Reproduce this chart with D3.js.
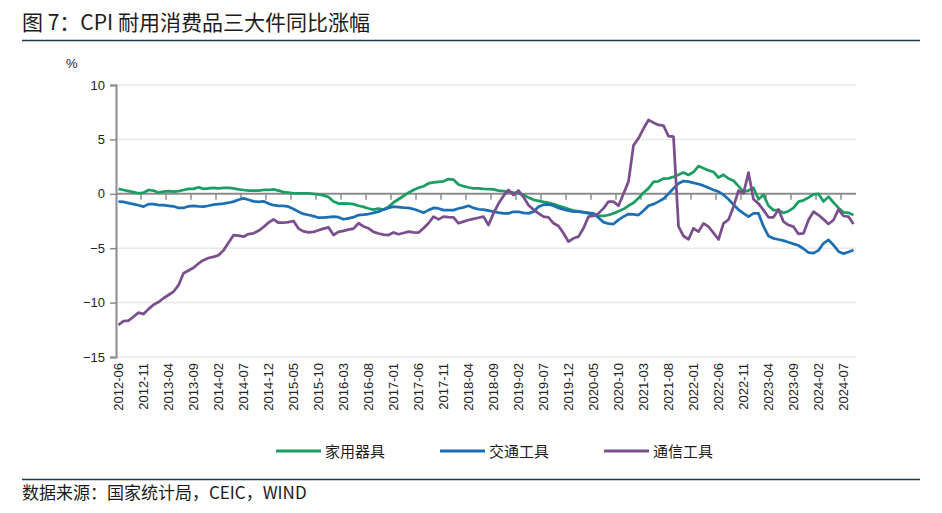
<script src="https://cdnjs.cloudflare.com/ajax/libs/d3/7.8.5/d3.min.js"></script>

<body style="margin: 0; background: white;">
<svg id="vis"></svg>
</body>

<script>

  /***** DATA *****/

  // Monthly categories 2012-06 ... 2024-09
  var months = d3.timeMonths(new Date(2012, 5, 1), new Date(2024, 8, 2)).map(d3.timeFormat('%Y-%m'))

  var seriesNames = ['家用器具', '交通工具', '通信工具']

  var appliances = [
    0.45, 0.35, 0.25, 0.15, 0.05, 0.1, 0.35, 0.3, 0.1, 0.2,
    0.25, 0.2, 0.25, 0.35, 0.45, 0.45, 0.6, 0.45, 0.5, 0.55,
    0.5, 0.55, 0.55, 0.5, 0.4, 0.35, 0.3, 0.3, 0.3, 0.35,
    0.35, 0.4, 0.3, 0.15, 0.1, 0.05, 0.03, 0.03, 0.03, 0.0,
    -0.05, -0.15, -0.3, -0.7, -0.9, -0.88, -0.9, -0.95, -1.1, -1.2,
    -1.35, -1.45, -1.35, -1.45, -1.2, -0.8, -0.5, -0.2, 0.1, 0.35,
    0.55, 0.7, 0.95, 1.05, 1.1, 1.15, 1.35, 1.3, 0.85, 0.7,
    0.58, 0.5, 0.5, 0.45, 0.42, 0.4, 0.3, 0.25, 0.18, 0.1,
    0.04, -0.1, -0.35, -0.55, -0.65, -0.75, -0.82, -0.95, -1.1, -1.25,
    -1.4, -1.55, -1.62, -1.68, -1.8, -1.9, -2.04, -2.04, -1.95, -1.8,
    -1.6, -1.4, -1.1, -0.82, -0.4, 0.1, 0.5, 1.1, 1.15, 1.4,
    1.42, 1.55, 1.75, 1.95, 1.73, 2.0, 2.55, 2.35, 2.15, 2.0,
    1.5, 1.75, 1.4, 1.2, 0.7, 0.2, 0.3, 0.55, -0.5, -0.1,
    -1.1, -1.5, -1.5, -1.75, -1.6, -1.3, -0.72, -0.6, -0.35, -0.05,
    0.0, -0.72, -0.26, -0.8, -1.3, -1.7, -1.75, -1.95
  ]

  var transport = [
    -0.72, -0.75, -0.85, -0.95, -1.05, -1.18, -0.95, -0.95, -1.03, -1.05,
    -1.1, -1.15, -1.3, -1.3, -1.15, -1.1, -1.15, -1.18, -1.1, -1.0,
    -0.95, -0.9, -0.82, -0.72, -0.55, -0.42, -0.55, -0.7, -0.75, -0.69,
    -0.9, -1.05, -1.1, -1.12, -1.18, -1.4, -1.64, -1.85, -1.95, -2.05,
    -2.2, -2.2, -2.15, -2.1, -2.15, -2.34, -2.25, -2.15, -1.95, -1.92,
    -1.86, -1.75, -1.64, -1.45, -1.3, -1.18, -1.22, -1.27, -1.3, -1.4,
    -1.56, -1.74, -1.5, -1.3, -1.35, -1.5, -1.5, -1.5, -1.35, -1.25,
    -1.1, -1.3, -1.42, -1.45, -1.55, -1.64, -1.73, -1.8, -1.8, -1.65,
    -1.65, -1.75, -1.8, -1.64, -1.2, -1.0, -0.97, -1.1, -1.3, -1.43,
    -1.55, -1.64, -1.64, -1.7, -1.75, -1.8, -2.2, -2.6, -2.75, -2.78,
    -2.4, -2.1, -1.86, -1.9, -1.95, -1.55, -1.1, -0.95, -0.72, -0.45,
    0.0, 0.5, 0.95, 1.17, 1.12, 1.0, 0.9, 0.75, 0.55, 0.35,
    0.2, -0.1, -0.5, -1.0, -1.45, -1.8, -2.1, -1.8, -1.8, -3.0,
    -3.88, -4.1, -4.2, -4.3, -4.45, -4.6, -4.75, -5.05, -5.4, -5.45,
    -5.2, -4.55, -4.24, -4.71, -5.3, -5.5, -5.35, -5.17
  ]

  var telecom = [
    -12.06, -11.7, -11.66, -11.3, -10.92, -11.05, -10.6, -10.2, -9.95, -9.6,
    -9.3, -9.0, -8.4, -7.3, -7.05, -6.8, -6.4, -6.1, -5.9, -5.8,
    -5.65, -5.2, -4.5, -3.8, -3.85, -3.94, -3.7, -3.63, -3.4, -3.05,
    -2.65, -2.35, -2.66, -2.66, -2.6, -2.5, -3.2, -3.45, -3.55, -3.5,
    -3.35, -3.2, -3.08, -3.79, -3.5, -3.4, -3.3, -3.2, -2.71, -3.0,
    -3.17, -3.5, -3.65, -3.75, -3.79, -3.55, -3.72, -3.6, -3.48, -3.55,
    -3.57, -3.17, -2.71, -2.1, -2.35, -2.1, -2.15, -2.17, -2.71, -2.56,
    -2.41, -2.3, -2.2, -2.1, -2.87, -1.8, -0.9, -0.2, 0.35, -0.11,
    0.3, -0.3, -1.05, -1.45, -1.8, -2.1, -2.16, -2.71, -2.96, -3.63,
    -4.4, -4.09, -3.94, -3.17, -2.1, -2.04, -1.8, -1.34, -0.72, -0.72,
    -1.1, 0.0, 1.12, 4.45, 5.1, 6.0, 6.78, 6.54, 6.33, 6.26,
    5.31, 5.25, -3.0, -3.88, -4.18, -3.17, -3.48, -2.72, -3.02, -3.6,
    -4.2, -2.72, -2.38, -1.18, 0.29, 0.04, 1.94, -0.5, -0.9, -1.5,
    -2.16, -2.16, -1.43, -2.56, -2.87, -3.02, -3.69, -3.63, -2.41, -1.64,
    -1.95, -2.35, -2.78, -2.41, -1.43, -2.04, -2.1, -2.78
  ]

  var yTicks = [10, 5, 0, -5, -10, -15]
  // every 5th month gets a label
  var xLabels = months.filter(function (d, i) { return i % 5 === 0 })

  var colors = ['#1b9e63', '#1c6fb2', '#7b4f8d']


  /***** SETUP *****/

  var width = 942
  var height = 513
  var plotLeft = 116, plotRight = 856, plotTop = 85, plotBottom = 357
  var cjk = '"Noto Sans CJK SC", "Noto Sans", sans-serif'
  var latin = '"Liberation Sans", Arial, sans-serif'

  var svg = d3.select('#vis')
    .attr('width', width)
    .attr('height', height)
    .style('background-color', 'white')

  var x = d3.scaleBand()
    .domain(months)
    .range([plotLeft, plotRight])
    .paddingInner(0)
    .paddingOuter(0)

  var y = d3.scaleLinear()
    .domain([-15, 10])
    .range([plotBottom, plotTop])

  function cx(d) { return x(d) + x.bandwidth() / 2 }


  /***** TITLE & FOOTER *****/

  svg.append('text')
    .text('图 7：CPI 耐用消费品三大件同比涨幅')
    .attr('x', 22)
    .attr('y', 30)
    .style('font-family', cjk)
    .style('font-size', 21)
    .style('fill', '#1a1a1a')

  svg.append('line')
    .attr('x1', 22).attr('x2', 920)
    .attr('y1', 40.5).attr('y2', 40.5)
    .style('stroke', '#1d3a4c')
    .style('stroke-width', 1.5)

  svg.append('line')
    .attr('x1', 22).attr('x2', 920)
    .attr('y1', 479.5).attr('y2', 479.5)
    .style('stroke', '#1d3a4c')
    .style('stroke-width', 1.5)

  svg.append('text')
    .text('数据来源：国家统计局，CEIC，WIND')
    .attr('x', 22)
    .attr('y', 499)
    .style('font-family', cjk)
    .style('font-size', 17)
    .style('fill', '#1a1a1a')


  /***** GRID & AXES *****/

  svg.append('g')
    .selectAll('line')
    .data(yTicks.filter(function (d) { return d !== 0 }))
    .enter()
    .append('line')
    .attr('x1', plotLeft).attr('x2', plotRight)
    .attr('y1', function (d) { return y(d) })
    .attr('y2', function (d) { return y(d) })
    .style('stroke', '#e8e8e8')
    .style('stroke-width', 1.5)

  var yAxis = svg.append('g')
    .attr('transform', 'translate(' + plotLeft + ',0)')
    .call(d3.axisLeft(y).tickValues(yTicks).tickSize(6).tickPadding(5))

  yAxis.select('.domain').style('stroke', '#8c8c8c').style('stroke-width', 2)
  yAxis.selectAll('.tick line').style('stroke', '#8c8c8c').style('stroke-width', 1.5)
  yAxis.selectAll('.tick text')
    .style('font-family', latin)
    .style('font-size', 13)
    .style('fill', '#222')

  svg.append('text')
    .text('%')
    .attr('x', 66)
    .attr('y', 68)
    .style('font-family', latin)
    .style('font-size', 13)
    .style('fill', '#222')

  // horizontal axis sits on zero, ticks at category boundaries
  svg.append('line')
    .attr('x1', plotLeft).attr('x2', plotRight)
    .attr('y1', y(0)).attr('y2', y(0))
    .style('stroke', '#8c8c8c')
    .style('stroke-width', 2)

  svg.append('g')
    .selectAll('line')
    .data(xLabels.slice(1))
    .enter()
    .append('line')
    .attr('x1', function (d) { return x(d) })
    .attr('x2', function (d) { return x(d) })
    .attr('y1', y(0))
    .attr('y2', y(0) + 6)
    .style('stroke', '#8c8c8c')
    .style('stroke-width', 1.5)

  svg.append('g')
    .selectAll('text')
    .data(xLabels)
    .enter()
    .append('text')
    .text(function (d) { return d })
    .attr('transform', function (d) { return 'translate(' + (cx(d) + 4.5) + ',' + (plotBottom + 6) + ') rotate(-90)' })
    .attr('text-anchor', 'end')
    .style('font-family', latin)
    .style('font-size', 13)
    .style('fill', '#222')


  /***** LINES *****/

  var allSeries = [appliances, transport, telecom]

  var line = d3.line()
    .x(function (d, i) { return cx(months[i]) })
    .y(function (d) { return y(d) })

  svg.append('g')
    .selectAll('path')
    .data(allSeries)
    .enter()
    .append('path')
    .attr('d', function (d) { return line(d) })
    .attr('fill', 'none')
    .attr('stroke', function (d, i) { return colors[i] })
    .attr('stroke-width', 2.75)
    .attr('stroke-linejoin', 'round')


  /***** LEGEND *****/

  var legendX = [276, 440, 604]
  var legend = svg.append('g')
    .selectAll('g')
    .data(seriesNames)
    .enter()
    .append('g')
    .attr('transform', function (d, i) { return 'translate(' + legendX[i] + ',451)' })

  legend.append('line')
    .attr('x1', 0).attr('x2', 45)
    .attr('y1', 0).attr('y2', 0)
    .attr('stroke', function (d, i) { return colors[i] })
    .attr('stroke-width', 3)

  legend.append('text')
    .text(function (d) { return d })
    .attr('x', 49)
    .attr('y', 5.5)
    .style('font-family', cjk)
    .style('font-size', 15)
    .style('fill', '#1a1a1a')

</script>
